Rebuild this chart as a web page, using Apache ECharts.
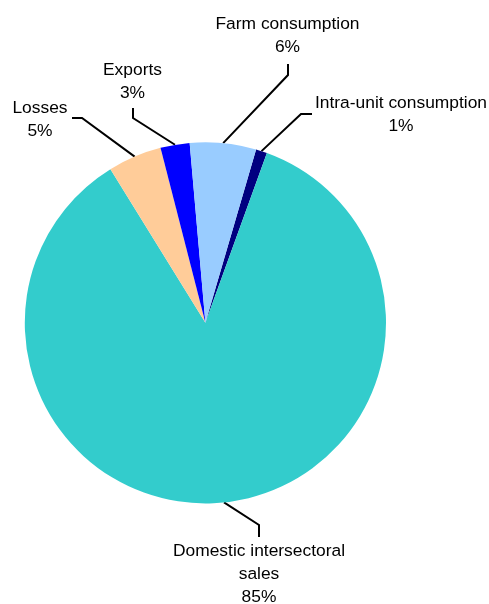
<!DOCTYPE html>
<html>
<head>
<meta charset="utf-8">
<script src="https://cdn.jsdelivr.net/npm/echarts@6/dist/echarts.min.js"></script>
<style>
html,body{margin:0;padding:0;background:#fff;}
#chart{width:489px;height:604px;}
</style>
</head>
<body>
<div id="chart"></div>
<script>
// ---- data ----
const categories = ['Intra-unit consumption', 'Domestic intersectoral\nsales', 'Losses', 'Exports', 'Farm consumption'];
const shares = [1.0, 85.4, 4.8, 2.6, 5.9];
const sliceColors = ['#000080', '#33CCCC', '#FFCC99', '#0000FF', '#99CCFF'];

// ---- label placement (manually positioned labels, like the reference) ----
const labelAnchor = [
  {x: 401, y: 114.5, elbow: [301, 114], end: [312, 114]},
  {x: 259, y: 574.5, elbow: [259, 525], end: [259, 537]},
  {x: 40,  y: 119.5, elbow: [82, 118],  end: [72, 118]},
  {x: 132.5, y: 81.5, elbow: [133, 118], end: [133, 108]},
  {x: 287.5, y: 35.5, elbow: [288, 75],  end: [288, 64]}
];

const chart = echarts.init(document.getElementById('chart'), null, {renderer: 'canvas'});
chart.setOption({
  animation: false,
  series: [{
    type: 'pie',
    center: [205.4, 322.8],
    radius: 180.6,
    startAngle: 73.7,
    clockwise: true,
    avoidLabelOverlap: false,
    minShowLabelAngle: 0,
    data: categories.map((c, i) => ({name: c, value: shares[i], itemStyle: {color: sliceColors[i]}})),
    itemStyle: {borderWidth: 0},
    emphasis: {disabled: true},
    label: {
      show: true,
      formatter: p => p.name + '\n' + Math.round(p.value) + '%',
      fontFamily: '"Liberation Sans", Arial, sans-serif',
      fontSize: 17.4,
      lineHeight: 23,
      color: '#000',
      align: 'center'
    },
    labelLine: {
      show: true,
      length: 20,
      length2: 10,
      smooth: false,
      lineStyle: {color: '#000', width: 2}
    },
    labelLayout: function (params) {
      const a = labelAnchor[params.dataIndex];
      const rim = params.labelLinePoints ? params.labelLinePoints[0] : a.elbow;
      return {
        x: a.x,
        y: a.y,
        align: 'center',
        verticalAlign: 'middle',
        labelLinePoints: [rim, a.elbow, a.end]
      };
    }
  }]
});
</script>
</body>
</html>
